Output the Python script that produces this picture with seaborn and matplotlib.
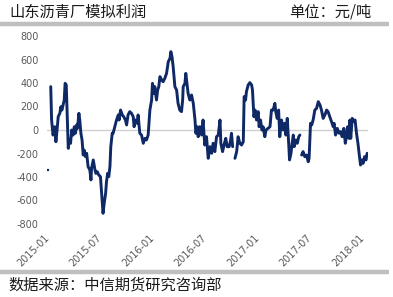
import numpy as np
import pandas as pd
import matplotlib
matplotlib.use("Agg")
import matplotlib.pyplot as plt
import matplotlib.dates as mdates
from matplotlib.lines import Line2D
import seaborn as sns

# ---- data ----
start_date = "2015-01-01"
days = [1, 5, 10, 13, 18, 24, 28, 32, 36, 42, 45, 49, 53, 57, 60, 64, 66, 69, 71, 74, 79, 83, 88, 92, 96, 100,
        103, 108, 111, 115, 119, 123, 126, 131, 135, 140, 146, 150, 152, 158, 164, 167, 172, 177, 183, 187,
        192, 196, 201, 204, 208, 212, 216, 219, 224, 227, 233, 239, 245, 248, 253, 259, 264, 270, 274, 279,
        285, 291, 297, 300, 305, 311, 314, 320, 326, 332, 338, 343, 349, 355, 361, 364, 369, 372, 378, 382,
        386, 390, 396, 401, 407, 413, 419, 425, 428, 432, 436, 442, 448, 453, 459, 465, 469, 471, 477, 480,
        484, 488, 494, 500, 506, 512, 515, 520, 523, 529, 535, 540, 546, 552, 558, 564, 570, 575, 581, 587,
        593, 599, 602, 608, 613, 619, 624, 631, 636, 639, 643, 647, 651, 657, 662, 668, 674, 680, 683, 688,
        691, 697, 703, 709, 712, 717, 721, 726, 732, 735, 740, 745, 749, 755, 759, 773, 778, 784, 790, 793,
        798, 803, 807, 813, 819, 824, 828, 833, 838, 841, 846, 850, 854, 857, 863, 868, 873, 877, 879, 883,
        888, 894, 900, 906, 909, 914, 918, 923, 929, 935, 941, 947, 952, 958, 964, 970, 975, 981, 987, 993,
        996, 1001, 1007, 1013, 1019, 1024, 1030, 1035, 1040, 1043, 1048, 1051, 1054, 1059, 1065, 1069, 1074,
        1079, 1083, 1088, 1093, 1097, 1102, 1107, 1111]
profit = [-340, np.nan, 369, 85, -43, 28, -100, 0, 113, 145, 198, 170, 213, 255, 397, 383, 230, 28, -156, -85,
          -113, 0, -43, 28, -28, 43, 14, 142, 85, -28, -85, -213, -170, -227, -198, -312, -340, -425, -326,
          -255, -340, -369, -355, -383, -397, -539, -709, -624, -539, -440, -369, -397, -312, -142, -28, -28,
          28, 85, 128, 85, 170, 128, 113, 85, 43, 128, 156, 142, 113, 28, 85, 57, 128, -28, -43, -113, -71,
          -85, -43, 170, 255, 397, 312, 369, 255, 340, 369, 454, 425, 411, 440, 482, 581, 610, 667, 624, 539,
          369, 340, 227, 170, 156, 255, 369, 397, 482, 397, 312, 255, 298, 227, 85, -28, 28, -57, 28, -43, 85,
          -128, -57, -241, -142, -198, -113, -184, -57, -43, 85, -113, -184, -128, -71, -142, -142, -85, -28,
          -142, np.nan, -241, -184, -57, -113, -128, -100, 284, 255, 326, 383, 403, 383, 340, 113, 170, 85, 156,
          28, 85, 0, 28, -57, 0, 28, 170, 170, 227, 156, 99, 170, -57, 85, 0, 57, -43, 99, -113, -255, -198,
          -113, -43, -142, -85, -113, -57, -43, np.nan, -213, -184, -227, -213, -270, -241, 57, 43, 85, 170,
          184, 241, 213, 170, 99, 128, 170, 156, 113, 71, 28, 57, -43, 14, -28, -14, -57, 14, -113, -43, 28,
          -71, 85, -71, 99, 71, 85, -28, -113, -198, -298, -255, -284, -227, -255, -198]
y_ticks = [800, 600, 400, 200, 0, -200, -400, -600, -800]
title = "山东沥青厂模拟利润"
unit = "单位：元/吨"
source = "数据来源：中信期货研究咨询部"

# ---- frame ----
df = pd.DataFrame({"date": pd.Timestamp(start_date) + pd.to_timedelta(days, unit="D"),
                   "profit": profit})
df["seg"] = df["profit"].isna().cumsum()
df = df.dropna()
counts = df["seg"].value_counts()
lines_df = df[df["seg"].map(counts) > 1]
dots_df = df[df["seg"].map(counts) == 1]

sns.set_theme(style="white")
plt.rcParams['font.family'] = ['Noto Sans CJK SC', 'DejaVu Sans']
plt.rcParams['axes.unicode_minus'] = False

W, H = 393, 297
fig = plt.figure(figsize=(W / 100, H / 100), dpi=100)
fig.patch.set_facecolor("white")
ax = fig.add_axes([47 / W, 1 - 224 / H, (368 - 47) / W, (224 - 36) / H])

navy = "#0e2966"
ax.axhline(0, color="#d0d0d0", lw=1.0, zorder=1)
sns.lineplot(data=lines_df, x="date", y="profit", units="seg", estimator=None,
             color=navy, lw=2.1, ax=ax, zorder=3)
sns.scatterplot(data=dots_df, x="date", y="profit", color=navy, s=3, marker="s",
                edgecolor=None, ax=ax, zorder=3)

x0 = pd.Timestamp(start_date) - pd.Timedelta(days=3)
x1 = pd.Timestamp(start_date) + pd.Timedelta(days=1114)
ax.set_xlim(x0, x1)
ax.set_ylim(-800, 800)
ax.set_yticks(y_ticks)
ax.set_yticklabels([str(v) for v in y_ticks])
ax.xaxis.set_major_locator(mdates.MonthLocator(bymonth=[1, 7]))
ax.xaxis.set_major_formatter(mdates.DateFormatter("%Y-%m"))
ax.set_xlabel("")
ax.set_ylabel("")
for s in ax.spines.values():
    s.set_visible(False)
ax.tick_params(axis="both", length=0, labelsize=7, labelcolor="#595959")
ax.tick_params(axis="y", pad=6)
ax.tick_params(axis="x", pad=9)
for lab in ax.get_yticklabels():
    lab.set_family("DejaVu Sans")
for lab in ax.get_xticklabels():
    lab.set_family("DejaVu Sans")
    lab.set_rotation(45)
    lab.set_ha("right")
    lab.set_va("center")
    lab.set_rotation_mode("anchor")
if ax.get_legend():
    ax.get_legend().remove()

# ---- decorations ----
fig.add_artist(Line2D([0, 389 / W], [1 - 23.5 / H] * 2, color="#bfbfbf", lw=3.2,
                      transform=fig.transFigure, solid_capstyle="butt"))
fig.add_artist(Line2D([0, 389 / W], [1 - 272 / H] * 2, color="#bfbfbf", lw=3.2,
                      transform=fig.transFigure, solid_capstyle="butt"))
fig.text(9 / W, 1 - 12 / H, title, fontsize=11, color="#1a1a1a", ha="left", va="center")
fig.text(371 / W, 1 - 12 / H, unit, fontsize=11, color="#1a1a1a", ha="right", va="center")
fig.text(8 / W, 1 - 285 / H, source, fontsize=11, color="#1a1a1a", ha="left", va="center")

fig.savefig("out.png", dpi=100, facecolor="white")
